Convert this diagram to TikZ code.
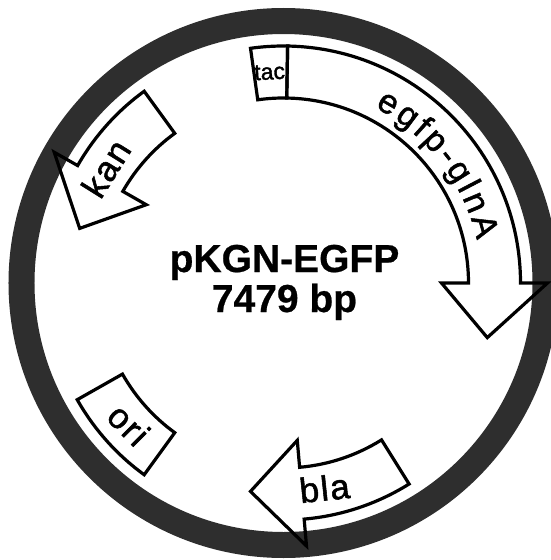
\documentclass[tikz,border=0pt]{standalone}
\usepackage{fontspec}
\setmainfont[BoldFeatures={FakeBold=0.6}]{Liberation Sans}
\newfontfamily\lblfont[LetterSpace=5,FakeBold=1.5]{Liberation Sans}
\newfontfamily\arcfont[FakeBold=1.5]{Liberation Sans}
\usetikzlibrary{decorations.text}
\definecolor{ringcol}{RGB}{46,46,46}
\begin{document}
\begin{tikzpicture}[x=1pt,y=1pt,
  feat/.style={draw=black, line width=3.2pt, line join=miter, miter limit=10},
  lbl/.style={font=\lblfont\fontsize{35}{35}\selectfont, inner sep=0pt, anchor=base},
  smalllbl/.style={font=\arcfont\fontsize{23}{23}\selectfont, inner sep=0pt, anchor=base},
  title/.style={font=\bfseries\fontsize{39}{39}\selectfont, inner sep=0pt, anchor=base}]
\useasboundingbox (-283.5,-277) rectangle (267.5,283);
\clip (-283.5,-277) rectangle (267.5,283);
% backbone ring
\draw[ringcol, line width=26pt] (0,0) circle (262pt);
% tac promoter box
\draw[feat] (98:185pt) arc[start angle=98, end angle=89, radius=185pt] -- (89:237pt) arc[start angle=89, end angle=98, radius=237pt] -- cycle;
% egfp-glnA arrow
\draw[feat] (89:237pt) arc[start angle=89, end angle=0, radius=237pt] -- (0:264pt) -- (-15:211pt) -- (0:158pt) -- (0:185pt) arc[start angle=0, end angle=89, radius=185pt] -- cycle;
% kan arrow
\draw[feat] (126:237pt) arc[start angle=126, end angle=150.3, radius=237pt] -- (150.3:264pt) -- (165:211pt) -- (150.3:158pt) -- (150.3:185pt) arc[start angle=150.3, end angle=126, radius=185pt] -- cycle;
% bla arrow
\draw[feat] (-58:237pt) arc[start angle=-58, end angle=-85, radius=237pt] -- (-85:264pt) -- (-99:211pt) -- (-85:158pt) -- (-85:185pt) arc[start angle=-85, end angle=-58, radius=185pt] -- cycle;
% ori box
\draw[feat] (209.5:185pt) arc[start angle=209.5, end angle=234, radius=185pt] -- (234:237pt) arc[start angle=234, end angle=209.5, radius=237pt] -- cycle;
% labels
\node[lbl, rotate=58] (kan) at (-167,108) {kan};
\node[lbl, rotate=-45] (ori) at (-163.5,-150.5) {ori};
\node[lbl, rotate=6] (bla) at (42.3,-217.5) {bla};
\node[smalllbl, rotate=3] (tac) at (-13.5,203.5) {tac};
\path[decorate, decoration={text along path, text={|\arcfont\fontsize{34}{34}\selectfont|egfp-glnA}, text align={fit to path}}] (62.5:198pt) arc[start angle=62.5, end angle=12.5, radius=198pt];
\node[title] (name) at (1,11) {pKGN-EGFP};
\node[title] (size) at (1,-29) {7479 bp};
\end{tikzpicture}
\end{document}
